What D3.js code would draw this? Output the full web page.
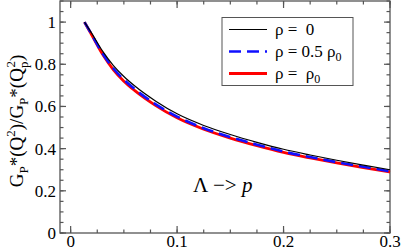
<html>
<head>
<script src="https://d3js.org/d3.v7.min.js"></script>
<style>
  body { margin: 0; background: white; }
  svg text { font-family: "Liberation Serif", "Times New Roman", Times, "DejaVu Serif", serif; fill: black; }
</style>
</head>
<body>
<svg id="chart" width="402" height="250"></svg>
<script>
// values
var xs      = [0.013, 0.02, 0.03, 0.04, 0.05, 0.06, 0.08, 0.1, 0.125, 0.15, 0.175, 0.2, 0.225, 0.25, 0.275, 0.3];
var rho0    = [1.0, 0.945, 0.862, 0.795, 0.742, 0.698, 0.625, 0.565, 0.510, 0.467, 0.430, 0.397, 0.370, 0.345, 0.322, 0.300];
var rhoHalf = [1.0, 0.939, 0.851, 0.781, 0.727, 0.683, 0.610, 0.552, 0.497, 0.455, 0.419, 0.386, 0.360, 0.336, 0.314, 0.292];
var rhoFull = [1.0, 0.937, 0.847, 0.775, 0.720, 0.676, 0.604, 0.546, 0.492, 0.450, 0.414, 0.382, 0.356, 0.332, 0.310, 0.289];
var xTicks = [0, 0.1, 0.2, 0.3];
var yTicks = [0, 0.2, 0.4, 0.6, 0.8, 1];

var mLeft = 60, mRight = 390, mTop = 1, mBottom = 233;
var svg = d3.select("#chart");

var x = d3.scaleLinear().domain([-0.01, 0.3]).range([mLeft, mRight]);
var y = d3.scaleLinear().domain([0, 1.1]).range([mBottom, mTop]);

var axisColor = "#555";

// minor + major ticks on all four sides
var xMinor = d3.range(0, 0.3001, 0.025);
var yMinor = d3.range(0, 1.1001, 0.05);

function tickLines(vals, isX, len) {
  vals.forEach(function (v) {
    if (isX) {
      var px = x(v);
      svg.append("line").attr("x1", px).attr("x2", px).attr("y1", mBottom).attr("y2", mBottom - len)
        .attr("stroke", axisColor).attr("stroke-width", 1.2);
      svg.append("line").attr("x1", px).attr("x2", px).attr("y1", mTop).attr("y2", mTop + len)
        .attr("stroke", axisColor).attr("stroke-width", 1.2);
    } else {
      var py = y(v);
      svg.append("line").attr("y1", py).attr("y2", py).attr("x1", mLeft).attr("x2", mLeft + len)
        .attr("stroke", axisColor).attr("stroke-width", 1.2);
      svg.append("line").attr("y1", py).attr("y2", py).attr("x1", mRight).attr("x2", mRight - len)
        .attr("stroke", axisColor).attr("stroke-width", 1.2);
    }
  });
}
tickLines(xMinor, true, 3.5);
tickLines(xTicks, true, 7);
tickLines(yMinor, false, 3.5);
tickLines(yTicks, false, 6);

svg.append("rect")
  .attr("x", mLeft).attr("y", mTop)
  .attr("width", mRight - mLeft).attr("height", mBottom - mTop)
  .attr("fill", "none").attr("stroke", axisColor).attr("stroke-width", 1.3);

// tick labels
svg.selectAll(".xl").data(xTicks).enter().append("text")
  .attr("x", function (d) { return x(d); })
  .attr("y", 247)
  .attr("text-anchor", "middle")
  .attr("font-size", 17)
  .text(function (d) { return d; });

svg.selectAll(".yl").data(yTicks).enter().append("text")
  .attr("x", 56)
  .attr("y", function (d) { return y(d) + 6; })
  .attr("text-anchor", "end")
  .attr("font-size", 17)
  .text(function (d) { return d; });

// y axis title
var yt = svg.append("text")
  .attr("transform", "translate(23,121) rotate(-90)")
  .attr("text-anchor", "middle")
  .attr("font-size", 19);
yt.append("tspan").text("G");
yt.append("tspan").attr("font-size", 13).attr("dy", 5).text("P");
yt.append("tspan").attr("dy", -5).text("*(Q");
yt.append("tspan").attr("font-size", 13).attr("dy", -8).text("2");
yt.append("tspan").attr("dy", 8).text(")/G");
yt.append("tspan").attr("font-size", 13).attr("dy", 5).text("P");
yt.append("tspan").attr("dy", -5).text("*(Q");
yt.append("tspan").attr("font-size", 13).attr("dy", 5).text("p");
yt.append("tspan").attr("font-size", 13).attr("dx", -6).attr("dy", -13).text("2");
yt.append("tspan").attr("dy", 8).text(")");

// curves
var line = d3.line()
  .x(function (d) { return x(d[0]); })
  .y(function (d) { return y(d[1]); })
  .curve(d3.curveMonotoneX);

var series = [
  { vals: rho0,    color: "black", width: 1.2, dash: null },
  { vals: rhoHalf, color: "#1010ff", width: 2.6, dash: "12,6" },
  { vals: rhoFull, color: "#ff0000", width: 2.8, dash: null }
];
// red first, then blue, black on top
[series[2], series[1], series[0]].forEach(function (s) {
  svg.append("path")
    .datum(xs.map(function (v, i) { return [v, s.vals[i]]; }))
    .attr("d", line)
    .attr("fill", "none")
    .attr("stroke", s.color)
    .attr("stroke-width", s.width)
    .attr("stroke-dasharray", s.dash);
});

// legend
svg.append("rect")
  .attr("x", 222).attr("y", 17.5).attr("width", 131).attr("height", 68)
  .attr("fill", "white").attr("stroke", axisColor).attr("stroke-width", 1);

var legY = [29.5, 51.5, 73.5];
series.forEach(function (s, i) {
  svg.append("line")
    .attr("x1", 229).attr("x2", 267)
    .attr("y1", legY[i]).attr("y2", legY[i])
    .attr("stroke", s.color).attr("stroke-width", s.width)
    .attr("stroke-dasharray", s.dash);
});
svg.append("text").attr("x", 275).attr("y", legY[0] + 5).attr("font-size", 17)
  .style("white-space", "pre").text("ρ =  0");
var lt1 = svg.append("text").attr("x", 275).attr("y", legY[1] + 5).attr("font-size", 17)
  .style("white-space", "pre");
lt1.append("tspan").text("ρ = 0.5 ρ");
lt1.append("tspan").attr("font-size", 12).attr("dy", 4).text("0");
var lt2 = svg.append("text").attr("x", 275).attr("y", legY[2] + 5).attr("font-size", 17)
  .style("white-space", "pre");
lt2.append("tspan").text("ρ =  ρ");
lt2.append("tspan").attr("font-size", 12).attr("dy", 4).text("0");

// reaction label
var rl = svg.append("text").attr("x", 193).attr("y", 192).attr("font-size", 21);
rl.append("tspan").text("Λ −> ");
rl.append("tspan").attr("font-style", "italic").text("p");
</script>
</body>
</html>
